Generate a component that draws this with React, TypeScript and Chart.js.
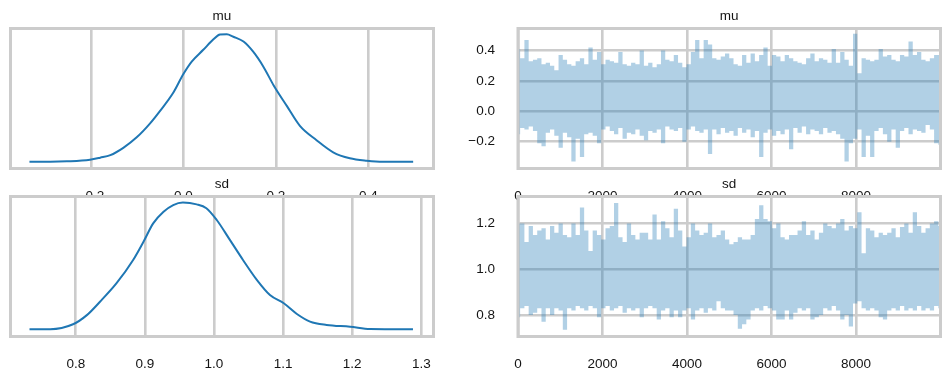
import React, { useEffect, useRef } from "react";
import { Chart, registerables } from "chart.js";

Chart.register(...registerables);

// ---- KDE (posterior density) data ----
const muKdeX = [-0.333, -0.288, -0.252, -0.202, -0.18, -0.158, -0.13, -0.101, -0.072, -0.05, -0.022, 0.0, 0.018, 0.043, 0.065, 0.079, 0.094, 0.108, 0.13, 0.151, 0.173, 0.195, 0.224, 0.252, 0.288, 0.324, 0.36, 0.397, 0.432, 0.497];
const muKdeY = [0.013, 0.013, 0.025, 0.075, 0.14, 0.22, 0.45, 0.78, 1.22, 1.62, 2.18, 2.77, 3.16, 3.53, 3.86, 4.01, 4.02, 3.94, 3.79, 3.47, 3.0, 2.42, 1.76, 1.14, 0.69, 0.31, 0.12, 0.044, 0.013, 0.013];
const sdKdeX = [0.733, 0.763, 0.796, 0.816, 0.835, 0.859, 0.883, 0.898, 0.912, 0.927, 0.941, 0.955, 0.975, 0.989, 1.004, 1.023, 1.042, 1.062, 1.081, 1.101, 1.12, 1.139, 1.163, 1.197, 1.226, 1.288];
const sdKdeY = [0.036, 0.036, 0.26, 0.67, 1.27, 2.1, 3.14, 3.96, 4.78, 5.3, 5.6, 5.71, 5.63, 5.46, 4.93, 4.04, 3.14, 2.25, 1.57, 1.2, 0.72, 0.38, 0.23, 0.15, 0.05, 0.036];

// ---- Trace data: per block of 100 draws, highest and lowest sampled value ----
const muTraceHigh = [
  0.41, 0.35, 0.47, 0.33, 0.34, 0.35, 0.31, 0.32, 0.30, 0.27,
  0.37, 0.34, 0.31, 0.30, 0.33, 0.35, 0.31, 0.42, 0.34, 0.39,
  0.31, 0.34, 0.33, 0.32, 0.39, 0.31, 0.30, 0.32, 0.31, 0.40,
  0.30, 0.32, 0.29, 0.31, 0.40, 0.34, 0.33, 0.37, 0.32, 0.29,
  0.31, 0.39, 0.47, 0.35, 0.47, 0.44, 0.35, 0.34, 0.36, 0.38,
  0.35, 0.31, 0.30, 0.37, 0.32, 0.38, 0.33, 0.37, 0.42, 0.30,
  0.37, 0.36, 0.33, 0.37, 0.35, 0.33, 0.32, 0.31, 0.35, 0.38,
  0.33, 0.35, 0.34, 0.32, 0.41, 0.32, 0.39, 0.34, 0.30, 0.51,
  0.25, 0.35, 0.34, 0.33, 0.34, 0.41, 0.36, 0.37, 0.34, 0.33,
  0.37, 0.36, 0.46, 0.37, 0.39, 0.34, 0.33, 0.35, 0.37, 0.37,
];
const muTraceLow = [
  -0.15, -0.11, -0.12, -0.10, -0.13, -0.21, -0.23, -0.14, -0.12, -0.16,
  -0.24, -0.14, -0.17, -0.33, -0.18, -0.30, -0.15, -0.14, -0.16, -0.21,
  -0.12, -0.10, -0.13, -0.15, -0.11, -0.18, -0.14, -0.15, -0.12, -0.16,
  -0.19, -0.13, -0.14, -0.12, -0.21, -0.10, -0.12, -0.13, -0.11, -0.20,
  -0.12, -0.10, -0.13, -0.14, -0.12, -0.28, -0.12, -0.15, -0.11, -0.14,
  -0.13, -0.16, -0.11, -0.14, -0.12, -0.17, -0.13, -0.30, -0.14, -0.12,
  -0.16, -0.13, -0.15, -0.12, -0.25, -0.11, -0.14, -0.10, -0.15, -0.12,
  -0.13, -0.15, -0.11, -0.14, -0.13, -0.15, -0.18, -0.33, -0.21, -0.18,
  -0.12, -0.30, -0.16, -0.30, -0.13, -0.11, -0.15, -0.20, -0.12, -0.24,
  -0.13, -0.11, -0.15, -0.12, -0.13, -0.14, -0.09, -0.12, -0.21, -0.22,
];
const sdTraceHigh = [
  1.20, 1.20, 1.12, 1.19, 1.15, 1.17, 1.18, 1.13, 1.19, 1.16,
  1.20, 1.15, 1.14, 1.20, 1.15, 1.27, 1.17, 1.08, 1.17, 1.15,
  1.13, 1.18, 1.19, 1.29, 1.14, 1.12, 1.20, 1.15, 1.13, 1.16,
  1.16, 1.13, 1.24, 1.13, 1.21, 1.18, 1.14, 1.265, 1.17, 1.10,
  1.14, 1.20, 1.17, 1.15, 1.16, 1.20, 1.14, 1.15, 1.17, 1.13,
  1.11, 1.12, 1.14, 1.13, 1.13, 1.15, 1.22, 1.28, 1.22, 1.21,
  1.18, 1.20, 1.14, 1.13, 1.15, 1.15, 1.17, 1.21, 1.15, 1.17,
  1.13, 1.16, 1.20, 1.19, 1.18, 1.20, 1.22, 1.17, 1.19, 1.18,
  1.25, 1.07, 1.18, 1.17, 1.14, 1.16, 1.15, 1.16, 1.18, 1.14,
  1.185, 1.20, 1.16, 1.25, 1.19, 1.16, 1.18, 1.20, 1.21, 1.19,
];
const sdTraceLow = [
  0.79, 0.83, 0.84, 0.80, 0.81, 0.83, 0.77, 0.83, 0.80, 0.83,
  0.82, 0.735, 0.83, 0.82, 0.84, 0.83, 0.82, 0.84, 0.83, 0.79,
  0.83, 0.84, 0.82, 0.83, 0.84, 0.81, 0.83, 0.82, 0.83, 0.79,
  0.83, 0.84, 0.83, 0.78, 0.82, 0.83, 0.79, 0.82, 0.79, 0.82,
  0.83, 0.78, 0.82, 0.83, 0.81, 0.83, 0.82, 0.86, 0.83, 0.82,
  0.82, 0.80, 0.74, 0.76, 0.78, 0.82, 0.83, 0.82, 0.84, 0.83,
  0.82, 0.78, 0.78, 0.82, 0.78, 0.81, 0.83, 0.82, 0.83, 0.78,
  0.79, 0.80, 0.83, 0.82, 0.84, 0.82, 0.78, 0.80, 0.75, 0.85,
  0.86, 0.83, 0.82, 0.83, 0.82, 0.79, 0.78, 0.82, 0.83, 0.82,
  0.84, 0.82, 0.83, 0.82, 0.84, 0.82, 0.83, 0.82, 0.84, 0.83,
];
const traceDraws = muTraceHigh.map((_, i) => i * 101);

// ---- tick labels ----
const muKdeTicks = [-0.2, 0.0, 0.2, 0.4];
const sdKdeTicks = [0.8, 0.9, 1.0, 1.1, 1.2, 1.3];
const drawTicks = [0, 2000, 4000, 6000, 8000];
const muTraceTicks = [-0.2, 0.0, 0.2, 0.4];
const sdTraceTicks = [0.8, 1.0, 1.2];

const FONT = { family: '"Liberation Sans", Arial, Helvetica, sans-serif', size: 13.5, weight: "normal" as const, lineHeight: 1.2 };
const TEXT = "#141414";
const GRID = "#cccccc";
const LINE = "#1f77b4";
const BAND = "rgba(31,119,180,0.35)";

function fmt(v: number, dec: number) {
  const val = Math.abs(v) < 1e-9 ? 0 : v;
  const s = val.toFixed(dec);
  return s.startsWith("-") ? "\u2212" + s.slice(1) : s;
}

const axBoxPlugin = {
  id: "axbox",
  beforeDraw(chart: any, _args: any, opts: any) {
    if (!opts || !opts.white) return;
    const { left, top, right, bottom } = chart.chartArea;
    const ctx = chart.ctx;
    ctx.save();
    ctx.fillStyle = "#ffffff";
    ctx.fillRect(left, top, right - left, bottom - top);
    ctx.restore();
  },
  afterDatasetsDraw(chart: any) {
    const { left, top, right, bottom } = chart.chartArea;
    const ctx = chart.ctx;
    ctx.save();
    ctx.strokeStyle = GRID;
    ctx.lineWidth = 3;
    ctx.strokeRect(left, top, right - left, bottom - top);
    ctx.restore();
  },
};

type Spec = {
  left: number; top: number; width: number; height: number;
  padL: number; padR: number; title: string;
  datasets: any[];
  xMin: number; xMax: number; xTicks: number[]; xDec: number;
  yMin: number; yMax: number; yTicks: number[] | null; yDec: number; yWidth: number;
  white: boolean;
};

function kdeData(xs: number[], ys: number[]) {
  return [{
    data: xs.map((x, i) => ({ x, y: ys[i] })),
    borderColor: LINE, borderWidth: 2, pointRadius: 0,
    cubicInterpolationMode: "monotone", fill: false,
  }];
}

function traceData(hi: number[], lo: number[]) {
  return [
    { data: traceDraws.map((x, i) => ({ x, y: lo[i] })), borderWidth: 0, borderColor: "transparent", pointRadius: 0, fill: false, stepped: "middle" },
    { data: traceDraws.map((x, i) => ({ x, y: hi[i] })), borderWidth: 0, borderColor: "transparent", pointRadius: 0, fill: "-1", backgroundColor: BAND, stepped: "middle" },
  ];
}

function Panel({ spec }: { spec: Spec }) {
  const ref = useRef<HTMLCanvasElement>(null);
  useEffect(() => {
    const chart = new Chart(ref.current as HTMLCanvasElement, {
      type: "line",
      data: { datasets: spec.datasets },
      options: {
        animation: false,
        responsive: false,
        devicePixelRatio: 1,
        layout: { padding: { left: spec.padL, right: spec.padR, top: 0, bottom: 0 } },
        plugins: {
          legend: { display: false },
          tooltip: { enabled: false },
          title: {
            display: true, text: spec.title, color: TEXT, font: FONT,
            fullSize: false, padding: { top: 0, bottom: 4.3 },
          },
          axbox: { white: spec.white },
        } as any,
        scales: {
          x: {
            type: "linear", min: spec.xMin, max: spec.xMax,
            afterBuildTicks: (s: any) => { s.ticks = spec.xTicks.map((v) => ({ value: v })); },
            afterFit: (s: any) => { s.height = 40.5; s.paddingLeft = 0; s.paddingRight = 0; },
            grid: { color: GRID, lineWidth: 2.6, drawTicks: false },
            border: { display: false },
            ticks: {
              color: TEXT, font: FONT, padding: 20, maxRotation: 0, autoSkip: false,
              callback: (v: any) => fmt(Number(v), spec.xDec),
            },
          },
          y: {
            type: "linear", display: !!spec.yTicks, min: spec.yMin, max: spec.yMax,
            afterBuildTicks: (s: any) => { if (spec.yTicks) s.ticks = spec.yTicks.map((v) => ({ value: v })); },
            afterFit: (s: any) => { s.width = spec.yWidth; s.paddingTop = 0; s.paddingBottom = 0; },
            grid: { color: GRID, lineWidth: 2.6, drawTicks: false },
            border: { display: false },
            ticks: {
              color: TEXT, font: FONT, padding: 23, autoSkip: false,
              callback: (v: any) => fmt(Number(v), spec.yDec),
            },
          },
        },
      } as any,
      plugins: [axBoxPlugin],
    });
    return () => chart.destroy();
  }, [spec]);
  return (
    <canvas
      ref={ref}
      width={spec.width}
      height={spec.height}
      style={{ position: "absolute", left: spec.left, top: spec.top, width: spec.width, height: spec.height }}
    />
  );
}

const specs: Spec[] = [
  {
    left: 0, top: 0, width: 432, height: 201, padL: 2.5, padR: 6.5, title: "mu",
    datasets: kdeData(muKdeX, muKdeY),
    xMin: -0.374, xMax: 0.541, xTicks: muKdeTicks, xDec: 1,
    yMin: -0.2, yMax: 4.2, yTicks: null, yDec: 1, yWidth: 0, white: false,
  },
  {
    left: 442, top: 0, width: 496, height: 201, padL: 0, padR: 5.5, title: "mu",
    datasets: traceData(muTraceHigh, muTraceLow),
    xMin: 0, xMax: 9999, xTicks: drawTicks, xDec: 0,
    yMin: -0.376, yMax: 0.545, yTicks: muTraceTicks, yDec: 1, yWidth: 68, white: false,
  },
  {
    left: 0, top: 168, width: 432, height: 201, padL: 2.5, padR: 6.5, title: "sd",
    datasets: kdeData(sdKdeX, sdKdeY),
    xMin: 0.7055, xMax: 1.3177, xTicks: sdKdeTicks, xDec: 1,
    yMin: -0.287, yMax: 5.983, yTicks: null, yDec: 1, yWidth: 0, white: true,
  },
  {
    left: 442, top: 168, width: 496, height: 201, padL: 0, padR: 5.5, title: "sd",
    datasets: traceData(sdTraceHigh, sdTraceLow),
    xMin: 0, xMax: 9999, xTicks: drawTicks, xDec: 0,
    yMin: 0.706, yMax: 1.3186, yTicks: sdTraceTicks, yDec: 1, yWidth: 68, white: true,
  },
];

export default function App() {
  return (
    <div style={{ position: "relative", width: 934, height: 366 }}>
      {specs.map((s, i) => (
        <Panel key={i} spec={s} />
      ))}
    </div>
  );
}
